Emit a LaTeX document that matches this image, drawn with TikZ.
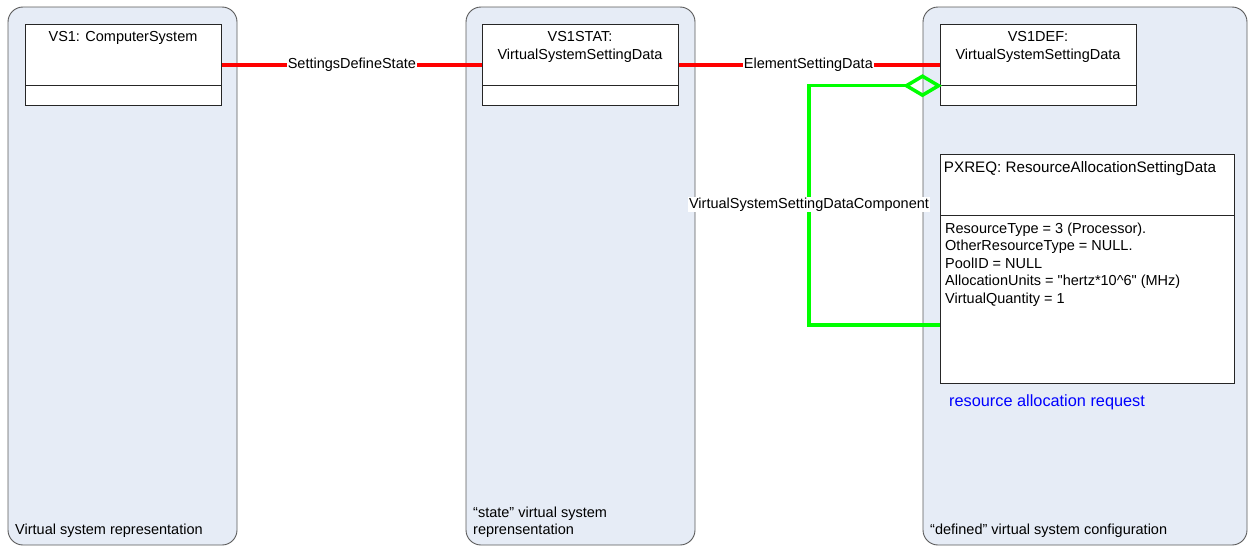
\documentclass[tikz,border=0pt]{standalone}
\usepackage{fontspec}
\setmainfont{Liberation Sans}
\usetikzlibrary{arrows.meta}
\definecolor{panelfill}{HTML}{E6ECF6}
\definecolor{panelline}{HTML}{5A5A5A}
\definecolor{assocred}{HTML}{FF0000}
\definecolor{compgreen}{HTML}{00FF00}
\definecolor{notesblue}{HTML}{0000FF}
\tikzset{
  panel/.style={draw=panelline, fill=panelfill, line width=0.9pt, rounded corners=15pt},
  compart/.style={draw=black!85, fill=white, line width=0.7pt, anchor=north west, inner sep=0pt},
  uml/.style={font=\fontsize{14.5}{18}\selectfont, align=center, anchor=north, inner sep=0pt},
  panellabel/.style={font=\fontsize{14.5}{17.5}\selectfont, align=left, anchor=south west, inner sep=0pt},
  assoc/.style={draw=assocred, line width=3.5pt},
  compose/.style={draw=compgreen, line width=3.5pt},
  linklabel/.style={fill=white, font=\fontsize{14.5}{18}\selectfont, inner sep=1pt},
}
\begin{document}
\begin{tikzpicture}[x=1pt, y=-1pt]
\useasboundingbox (0,0) rectangle (1249,546);

% three rounded panels
\draw[panel] (8,7) rectangle (237,545);
\draw[panel] (466,7) rectangle (695,545);
\draw[panel] (923,7) rectangle (1247,545);

\node[panellabel] (lab1) at (15,538) {Virtual system representation};
\node[panellabel] (lab2) at (473,538) {“state” virtual system\\reprensentation};
\node[panellabel] (lab3) at (930,538) {“defined” virtual system configuration};

% VS1 object
\node[compart, minimum width=196pt, minimum height=61pt] (vs1) at (25,24) {};
\node[compart, minimum width=196pt, minimum height=20pt] (vs1b) at (25,85) {};
\node[uml] (vs1t) at (123,31) {VS1: ComputerSystem};

% VS1STAT object
\node[compart, minimum width=196pt, minimum height=61pt] (stat) at (482,24) {};
\node[compart, minimum width=196pt, minimum height=20pt] (statb) at (482,85) {};
\node[uml] (statt) at (580,31) {VS1STAT:\\VirtualSystemSettingData};

% VS1DEF object
\node[compart, minimum width=196pt, minimum height=61pt] (def) at (940,24) {};
\node[compart, minimum width=196pt, minimum height=20pt] (defb) at (940,85) {};
\node[uml] (deft) at (1038,31) {VS1DEF:\\VirtualSystemSettingData};

% PXREQ object
\node[compart, minimum width=294pt, minimum height=61pt] (px) at (940,154) {};
\node[compart, minimum width=294pt, minimum height=168pt] (pxb) at (940,215) {};
\node[uml, font=\fontsize{15.2}{18}\selectfont] (pxt) at (1080,161) {PXREQ: ResourceAllocationSettingData};
\node[font=\fontsize{14.5}{17.5}\selectfont, align=left, anchor=north west, inner sep=0pt] (pxattr) at (945,222.5)
  {ResourceType = 3 (Processor).\\OtherResourceType = NULL.\\PoolID = NULL\\AllocationUnits = \textquotedbl hertz*10\string^6\textquotedbl{} (MHz)\\VirtualQuantity = 1};
\node[font=\fontsize{16.3}{19}\selectfont, text=notesblue, anchor=west, inner sep=0pt] (note) at (949,402) {resource allocation request};

% associations, drawn through the middle of the object boxes
\draw[assoc] ([yshift=-10pt]vs1.east) -- node[linklabel] {SettingsDefineState} ([yshift=-10pt]stat.west);
\draw[assoc] ([yshift=-10pt]stat.east) -- node[linklabel, xshift=-1pt] {ElementSettingData} ([yshift=-10pt]def.west);

% component aggregation
\coordinate (bend) at (809,325);
\draw[compose, {Diamond[open, length=39pt, width=23pt, line width=3.5pt]}-] ([xshift=2pt]def.south west) -| (bend) -- (pxb.west |- bend);
\node[linklabel] (complab) at (809,204.5) {VirtualSystemSettingDataComponent};
\end{tikzpicture}
\end{document}
